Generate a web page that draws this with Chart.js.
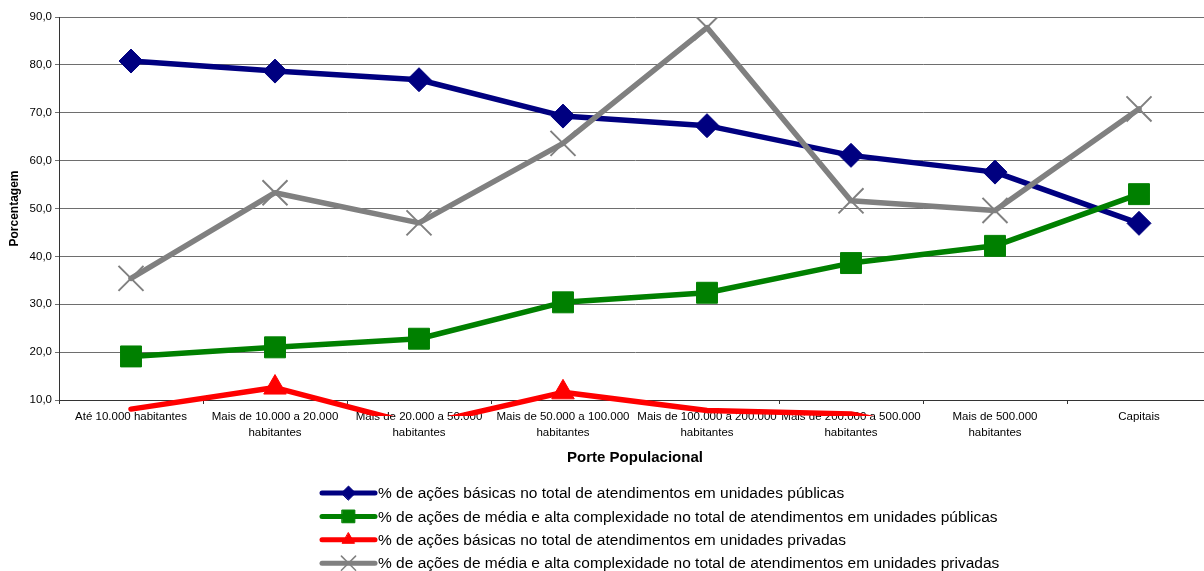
<!DOCTYPE html>
<html lang="pt-BR">
<head>
<meta charset="utf-8">
<title>Porte Populacional</title>
<script src="https://cdn.jsdelivr.net/npm/chart.js@4.4.1/dist/chart.umd.min.js"></script>
<style>
  html, body { margin: 0; padding: 0; background: #fff; overflow: hidden; }
  #wrap { width: 1211px; height: 571px; }
</style>
</head>
<body>
<div id="wrap"><canvas id="chart" width="1211" height="571"></canvas></div>
<script>
// Population-size categories (x axis)
const categories = [
  'Até 10.000 habitantes',
  ['Mais de 10.000 a 20.000', 'habitantes'],
  ['Mais de 20.000 a 50.000', 'habitantes'],
  ['Mais de 50.000 a 100.000', 'habitantes'],
  ['Mais de 100.000 a 200.000', 'habitantes'],
  ['Mais de 200.000 a 500.000', 'habitantes'],
  ['Mais de 500.000', 'habitantes'],
  'Capitais'
];

// Series labels
const seriesNames = [
  '% de ações básicas no total de atendimentos em unidades públicas',
  '% de ações de média e alta complexidade no total de atendimentos em unidades públicas',
  '% de ações básicas no total de atendimentos em unidades privadas',
  '% de ações de média e alta complexidade no total de atendimentos em unidades privadas'
];

// Percentages per category
const basicasPublicas   = [80.8, 78.7, 76.9, 69.3, 67.3, 61.1, 57.6, 46.9];
const mediaAltaPublicas = [19.1, 21.0, 22.8, 30.4, 32.4, 38.6, 42.2, 53.0];
const basicasPrivadas   = [8.1, 12.6, 4.7, 11.6, 7.8, 7.1, 0.8, 1.5];
const mediaAltaPrivadas = [35.4, 53.3, 47.0, 63.6, 87.8, 51.6, 49.6, 70.8];

// Y axis range
const yMin = 10, yMax = 90, yStep = 10;

const FONT = "'Liberation Sans', Arial, sans-serif";

// Hide markers that fall below the axis minimum
const markerRadius = r => ctx => (ctx.raw < yMin ? 0 : r);

const datasets = [
  {
    label: seriesNames[0], data: basicasPublicas, order: 4,
    borderColor: '#000080', backgroundColor: '#000080',
    pointStyle: 'rectRot', pointRadius: markerRadius(12), legendRadius: 7,
    pointBorderWidth: 1, legendBorder: 1
  },
  {
    label: seriesNames[1], data: mediaAltaPublicas, order: 3,
    borderColor: '#008000', backgroundColor: '#008000',
    pointStyle: 'rect', pointRadius: markerRadius(14.8), legendRadius: 9,
    pointBorderWidth: 1, legendBorder: 1
  },
  {
    label: seriesNames[2], data: basicasPrivadas, order: 2,
    borderColor: '#ff0000', backgroundColor: '#ff0000',
    pointStyle: 'triangle', pointRadius: markerRadius(13), legendRadius: 7,
    pointBorderWidth: 1, legendBorder: 1,
    clip: { left: 10, top: 10, right: 10, bottom: 16 }
  },
  {
    label: seriesNames[3], data: mediaAltaPrivadas, order: 1,
    borderColor: '#808080', backgroundColor: '#808080',
    pointStyle: 'crossRot', pointRadius: markerRadius(17.7), legendRadius: 10,
    pointBorderWidth: 2, legendBorder: 1.5
  }
].map(d => Object.assign({
  borderWidth: 5.5,
  borderCapStyle: 'round',
  borderJoinStyle: 'round',
  pointBackgroundColor: d.borderColor,
  pointBorderColor: d.borderColor,
  pointHoverRadius: d.pointRadius,
  tension: 0,
  fill: false
}, d));

// Series key drawn under the axis title: line segment, marker, text
const seriesKey = {
  id: 'seriesKey',
  afterDraw(chart) {
    const ctx = chart.ctx;
    const lineX0 = 322, lineX1 = 375, textX = 378;
    const top = chart.chartArea.bottom + 93, rowGap = 23.4;
    ctx.save();
    chart.data.datasets.forEach((ds, i) => {
      const y = top + i * rowGap;
      ctx.strokeStyle = ds.borderColor;
      ctx.fillStyle = ds.borderColor;
      ctx.lineWidth = 5;
      ctx.lineCap = 'round';
      ctx.beginPath();
      ctx.moveTo(lineX0, y);
      ctx.lineTo(lineX1, y);
      ctx.stroke();
      ctx.lineWidth = ds.legendBorder;
      Chart.helpers.drawPoint(ctx, {
        pointStyle: ds.pointStyle, radius: ds.legendRadius,
        rotation: 0, borderWidth: ds.legendBorder
      }, (lineX0 + lineX1) / 2, y);
      ctx.fillStyle = '#000';
      ctx.font = '15.5px ' + FONT;
      ctx.textAlign = 'left';
      ctx.textBaseline = 'middle';
      ctx.fillText(ds.label, textX, y + 1);
    });
    ctx.restore();
  }
};

new Chart(document.getElementById('chart'), {
  type: 'line',
  data: { labels: categories, datasets },
  options: {
    responsive: false,
    animation: false,
    events: [],
    layout: { autoPadding: false, padding: { top: 17, bottom: 100, left: 0, right: 0 } },
    plugins: { legend: { display: false }, tooltip: { enabled: false } },
    scales: {
      x: {
        type: 'category',
        offset: true,
        border: { display: true, color: '#333', width: 1 },
        grid: {
          display: true, offset: true, drawOnChartArea: false,
          drawTicks: true, tickLength: 4, color: '#333'
        },
        ticks: {
          autoSkip: false, maxRotation: 0, minRotation: 0, padding: 5,
          color: '#000', font: { family: FONT, size: 11.5, lineHeight: 1.39 }
        },
        title: {
          display: true, text: 'Porte Populacional', color: '#000',
          font: { family: FONT, size: 15, weight: 'bold' },
          padding: { top: 0, bottom: 4 }
        },
        afterFit(scale) {
          scale.height = 71;
          scale.paddingLeft = 0;
          scale.paddingRight = 0;
        }
      },
      y: {
        min: yMin, max: yMax,
        border: { display: true, color: '#333', width: 1 },
        grid: { color: '#6e6e6e', lineWidth: 1, drawTicks: true, tickLength: 4 },
        ticks: {
          stepSize: yStep, padding: 3, color: '#000',
          font: { family: FONT, size: 11.5 },
          callback: v => v.toFixed(1).replace('.', ',')
        },
        title: {
          display: true, text: 'Porcentagem', color: '#000',
          font: { family: FONT, size: 12, weight: 'bold' },
          padding: { top: 7, bottom: 0 }
        },
        afterFit(scale) {
          scale.width = 59;
          scale.paddingTop = 0;
          scale.paddingBottom = 0;
        }
      }
    }
  },
  plugins: [seriesKey]
});
</script>
</body>
</html>
